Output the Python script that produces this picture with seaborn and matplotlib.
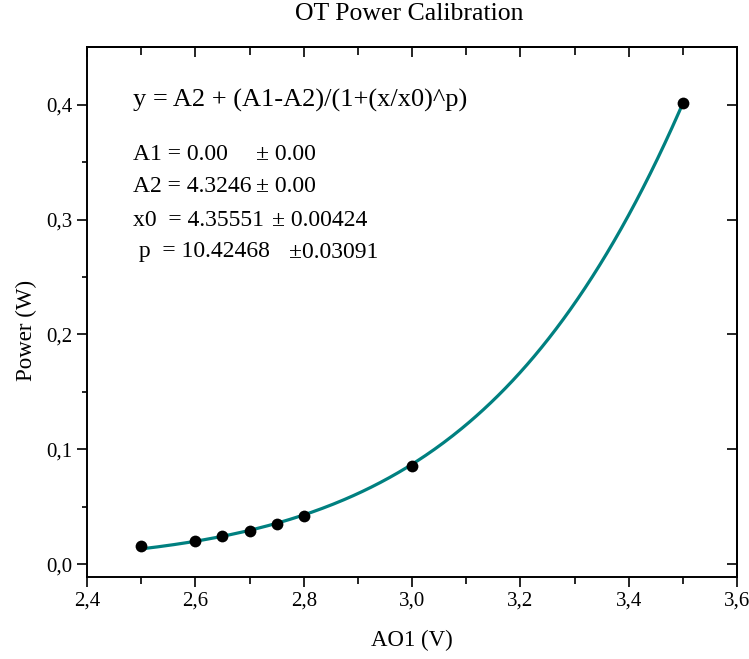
import numpy as np
import pandas as pd
import matplotlib
matplotlib.use("Agg")
import matplotlib.pyplot as plt
import seaborn as sns

# ---- data ----
ao1_v = [2.5, 2.6, 2.65, 2.7, 2.75, 2.8, 3.0, 3.5]
power_w = [0.0157, 0.020, 0.0244, 0.0288, 0.035, 0.042, 0.0854, 0.4017]

# fit parameters shown on the chart
A1 = 0.00
A2 = 4.3246
x0 = 4.35551
p = 10.42468

x_ticks = [2.4, 2.6, 2.8, 3.0, 3.2, 3.4, 3.6]
x_tick_labels = ["2,4", "2,6", "2,8", "3,0", "3,2", "3,4", "3,6"]
y_ticks = [0.0, 0.1, 0.2, 0.3, 0.4]
y_tick_labels = ["0,0", "0,1", "0,2", "0,3", "0,4"]

title = "OT Power Calibration"
x_label = "AO1 (V)"
y_label = "Power (W)"

eq_text = "y = A2 + (A1-A2)/(1+(x/x0)^p)"
param_left = ["A1 = 0.00", "A2 = 4.3246", "x0  = 4.35551", " p  = 10.42468"]
param_right = ["± 0.00", "± 0.00", "± 0.00424", "±0.03091"]

# ---- style ----
sns.set_style("ticks")
plt.rcParams["font.family"] = ["Liberation Serif", "DejaVu Serif"]
plt.rcParams["axes.linewidth"] = 1.4
for k in ["text.color", "axes.labelcolor", "xtick.color", "ytick.color", "axes.edgecolor"]:
    plt.rcParams[k] = "black"

fig = plt.figure(figsize=(7.49, 6.59), dpi=100)
ax = fig.add_axes([0.1162, 0.1244, 0.8678, 0.8043])

df = pd.DataFrame({"x": ao1_v, "y": power_w})
xf = np.linspace(min(ao1_v), max(ao1_v), 300)
yf = A2 + (A1 - A2) / (1 + (xf / x0) ** p)
fit = pd.DataFrame({"x": xf, "y": yf})

sns.lineplot(data=fit, x="x", y="y", ax=ax, color="#008080", linewidth=2.3, zorder=2)
sns.scatterplot(data=df, x="x", y="y", ax=ax, color="black", s=72,
                edgecolor="black", linewidth=0, zorder=3)

ax.set_xlim(2.4, 3.6)
ax.set_ylim(-0.0113, 0.4505)
ax.set_xticks(x_ticks)
ax.set_xticklabels(x_tick_labels)
ax.set_yticks(y_ticks)
ax.set_yticklabels(y_tick_labels)
ax.set_xticks(np.arange(2.5, 3.6, 0.2), minor=True)
ax.set_yticks(np.arange(0.05, 0.45, 0.1), minor=True)
ax.tick_params(axis="both", which="major", direction="out", length=7.2, width=1.2,
               labelsize=15, colors="black")
ax.tick_params(axis="x", which="minor", direction="out", length=5, width=1.2)
ax.tick_params(axis="y", which="minor", direction="out", length=3.6, width=1.2)
for s in ax.spines.values():
    s.set_visible(True)
    s.set_color("black")
    s.set_linewidth(1.4)

sec_x = ax.secondary_xaxis("top")
sec_x.set_xticks(x_ticks)
sec_x.set_xticks(np.arange(2.5, 3.6, 0.2), minor=True)
sec_x.tick_params(which="major", direction="in", length=7.2, width=1.2, labeltop=False)
sec_x.tick_params(which="minor", direction="in", length=6, width=1.2)
sec_x.spines["top"].set_linewidth(1.4)

sec_y = ax.secondary_yaxis("right")
sec_y.set_yticks(y_ticks)
sec_y.tick_params(which="major", direction="in", length=7.2, width=1.2, labelright=False)
sec_y.spines["right"].set_linewidth(1.4)

ax.set_xlabel(x_label, fontsize=16.5, labelpad=14)
ax.set_ylabel(y_label, fontsize=16.5)
ax.yaxis.set_label_coords(-0.077, 0.466)
fig.text(0.546, 0.978, title, ha="center", va="center", fontsize=18.5)

# annotation (pixel coords -> figure fraction)
W, H = 749, 659
fig.text(133 / W, 1 - 100 / H, eq_text, ha="left", va="center", fontsize=19)
rows_y = [155, 187, 220, 252]
right_x = [256, 256, 272, 289]
for ly, lt, rt, rx in zip(rows_y, param_left, param_right, right_x):
    fig.text(133 / W, 1 - ly / H, lt, ha="left", va="center", fontsize=17)
    fig.text(rx / W, 1 - ly / H, rt, ha="left", va="center", fontsize=17)

fig.savefig("out.png", dpi=100)
